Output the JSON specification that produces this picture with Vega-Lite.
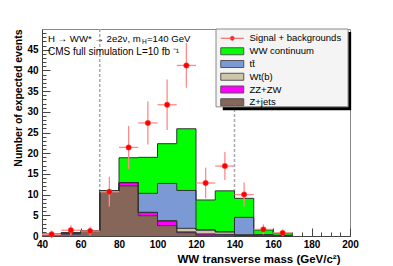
{
  "$schema": "https://vega.github.io/schema/vega-lite/v6.json",
  "width": 308,
  "height": 207,
  "autosize": "none",
  "padding": {"left": 42, "top": 29, "right": 43, "bottom": 30},
  "background": "white",
  "datasets": {
    "cuts": [{"cut": 70}, {"cut": 140}],
    "hist": [
      {"lo": 40, "hi": 50, "process": "Z+jets", "ord": 1, "n": 0.4},
      {"lo": 40, "hi": 50, "process": "ZZ+ZW", "ord": 2, "n": 0},
      {"lo": 40, "hi": 50, "process": "Wt(b)", "ord": 3, "n": 0},
      {"lo": 40, "hi": 50, "process": "tt\u0304", "ord": 4, "n": 0},
      {"lo": 40, "hi": 50, "process": "WW continuum", "ord": 5, "n": 0},
      {"lo": 50, "hi": 60, "process": "Z+jets", "ord": 1, "n": 0.45},
      {"lo": 50, "hi": 60, "process": "ZZ+ZW", "ord": 2, "n": 0.3},
      {"lo": 50, "hi": 60, "process": "Wt(b)", "ord": 3, "n": 0},
      {"lo": 50, "hi": 60, "process": "tt\u0304", "ord": 4, "n": 0},
      {"lo": 50, "hi": 60, "process": "WW continuum", "ord": 5, "n": 0},
      {"lo": 60, "hi": 70, "process": "Z+jets", "ord": 1, "n": 1.25},
      {"lo": 60, "hi": 70, "process": "ZZ+ZW", "ord": 2, "n": 0.05},
      {"lo": 60, "hi": 70, "process": "Wt(b)", "ord": 3, "n": 0},
      {"lo": 60, "hi": 70, "process": "tt\u0304", "ord": 4, "n": 0},
      {"lo": 60, "hi": 70, "process": "WW continuum", "ord": 5, "n": 0},
      {"lo": 70, "hi": 80, "process": "Z+jets", "ord": 1, "n": 10.9},
      {"lo": 70, "hi": 80, "process": "ZZ+ZW", "ord": 2, "n": 0.05},
      {"lo": 70, "hi": 80, "process": "Wt(b)", "ord": 3, "n": 0},
      {"lo": 70, "hi": 80, "process": "tt\u0304", "ord": 4, "n": 0},
      {"lo": 70, "hi": 80, "process": "WW continuum", "ord": 5, "n": 0},
      {"lo": 80, "hi": 90, "process": "Z+jets", "ord": 1, "n": 12.1},
      {"lo": 80, "hi": 90, "process": "ZZ+ZW", "ord": 2, "n": 0.8},
      {"lo": 80, "hi": 90, "process": "Wt(b)", "ord": 3, "n": 0},
      {"lo": 80, "hi": 90, "process": "tt\u0304", "ord": 4, "n": 0},
      {"lo": 80, "hi": 90, "process": "WW continuum", "ord": 5, "n": 6.0},
      {"lo": 90, "hi": 100, "process": "Z+jets", "ord": 1, "n": 4.9},
      {"lo": 90, "hi": 100, "process": "ZZ+ZW", "ord": 2, "n": 0.8},
      {"lo": 90, "hi": 100, "process": "Wt(b)", "ord": 3, "n": 0},
      {"lo": 90, "hi": 100, "process": "tt\u0304", "ord": 4, "n": 4.6},
      {"lo": 90, "hi": 100, "process": "WW continuum", "ord": 5, "n": 8.7},
      {"lo": 100, "hi": 110, "process": "Z+jets", "ord": 1, "n": 2.5},
      {"lo": 100, "hi": 110, "process": "ZZ+ZW", "ord": 2, "n": 1.1},
      {"lo": 100, "hi": 110, "process": "Wt(b)", "ord": 3, "n": 0.1},
      {"lo": 100, "hi": 110, "process": "tt\u0304", "ord": 4, "n": 9.0},
      {"lo": 100, "hi": 110, "process": "WW continuum", "ord": 5, "n": 9.6},
      {"lo": 110, "hi": 120, "process": "Z+jets", "ord": 1, "n": 0.8},
      {"lo": 110, "hi": 120, "process": "ZZ+ZW", "ord": 2, "n": 0.2},
      {"lo": 110, "hi": 120, "process": "Wt(b)", "ord": 3, "n": 0.85},
      {"lo": 110, "hi": 120, "process": "tt\u0304", "ord": 4, "n": 9.15},
      {"lo": 110, "hi": 120, "process": "WW continuum", "ord": 5, "n": 14.9},
      {"lo": 120, "hi": 130, "process": "Z+jets", "ord": 1, "n": 0.2},
      {"lo": 120, "hi": 130, "process": "ZZ+ZW", "ord": 2, "n": 0.3},
      {"lo": 120, "hi": 130, "process": "Wt(b)", "ord": 3, "n": 0.95},
      {"lo": 120, "hi": 130, "process": "tt\u0304", "ord": 4, "n": 0},
      {"lo": 120, "hi": 130, "process": "WW continuum", "ord": 5, "n": 7.25},
      {"lo": 130, "hi": 140, "process": "Z+jets", "ord": 1, "n": 0.2},
      {"lo": 130, "hi": 140, "process": "ZZ+ZW", "ord": 2, "n": 0.2},
      {"lo": 130, "hi": 140, "process": "Wt(b)", "ord": 3, "n": 0.6},
      {"lo": 130, "hi": 140, "process": "tt\u0304", "ord": 4, "n": 0},
      {"lo": 130, "hi": 140, "process": "WW continuum", "ord": 5, "n": 9.9},
      {"lo": 140, "hi": 150, "process": "Z+jets", "ord": 1, "n": 0.1},
      {"lo": 140, "hi": 150, "process": "ZZ+ZW", "ord": 2, "n": 0.1},
      {"lo": 140, "hi": 150, "process": "Wt(b)", "ord": 3, "n": 0.1},
      {"lo": 140, "hi": 150, "process": "tt\u0304", "ord": 4, "n": 4.2},
      {"lo": 140, "hi": 150, "process": "WW continuum", "ord": 5, "n": 4.6},
      {"lo": 150, "hi": 160, "process": "Z+jets", "ord": 1, "n": 0},
      {"lo": 150, "hi": 160, "process": "ZZ+ZW", "ord": 2, "n": 0.05},
      {"lo": 150, "hi": 160, "process": "Wt(b)", "ord": 3, "n": 0.25},
      {"lo": 150, "hi": 160, "process": "tt\u0304", "ord": 4, "n": 0},
      {"lo": 150, "hi": 160, "process": "WW continuum", "ord": 5, "n": 1.15},
      {"lo": 160, "hi": 170, "process": "Z+jets", "ord": 1, "n": 0},
      {"lo": 160, "hi": 170, "process": "ZZ+ZW", "ord": 2, "n": 0},
      {"lo": 160, "hi": 170, "process": "Wt(b)", "ord": 3, "n": 0.15},
      {"lo": 160, "hi": 170, "process": "tt\u0304", "ord": 4, "n": 0},
      {"lo": 160, "hi": 170, "process": "WW continuum", "ord": 5, "n": 0.5}
    ],
    "obs": [
      {"m": 45, "lo": 40, "hi": 50, "n": 0.4, "err": 0.9},
      {"m": 55, "lo": 50, "hi": 60, "n": 1.4, "err": 1.2},
      {"m": 65, "lo": 60, "hi": 70, "n": 1.2, "err": 1.1},
      {"m": 75, "lo": 70, "hi": 80, "n": 10.7, "err": 3.6},
      {"m": 85, "lo": 80, "hi": 90, "n": 21.4, "err": 5.2},
      {"m": 95, "lo": 90, "hi": 100, "n": 27.3, "err": 5.2},
      {"m": 105, "lo": 100, "hi": 110, "n": 31.7, "err": 6.1},
      {"m": 115, "lo": 110, "hi": 120, "n": 41.2, "err": 5.4},
      {"m": 125, "lo": 120, "hi": 130, "n": 12.8, "err": 3.7},
      {"m": 135, "lo": 130, "hi": 140, "n": 16.9, "err": 3.4},
      {"m": 145, "lo": 140, "hi": 150, "n": 10.0, "err": 2.9},
      {"m": 155, "lo": 150, "hi": 160, "n": 1.6, "err": 1.2},
      {"m": 165, "lo": 160, "hi": 170, "n": 0.75, "err": 0.8}
    ]
  },
  "config": {
    "view": {"stroke": "#888", "strokeWidth": 1},
    "font": "Liberation Sans",
    "axis": {
      "grid": false, "zindex": 1, "domainColor": "#444", "tickColor": "#444", "tickWidth": 1,
      "labelColor": "#000", "labelFont": "Liberation Sans", "labelFontSize": 10, "labelFontWeight": "bold",
      "titleFont": "Liberation Sans", "titleColor": "#000", "titleFontWeight": "bold",
      "labelFlush": false, "labelOverlap": false
    }
  },
  "layer": [
    {
      "data": {"name": "cuts"},
      "mark": {"type": "rule", "strokeDash": [3, 2], "color": "#aaaaaa", "strokeWidth": 1.5},
      "encoding": {
        "x": {"field": "cut", "type": "quantitative", "title": "WW transverse mass (GeV/c²)", "scale": {"domain": [40, 200], "nice": false, "zero": false},
          "axis": {
            "values": [40,45,50,55,60,65,70,75,80,85,90,95,100,105,110,115,120,125,130,135,140,145,150,155,160,165,170,175,180,185,190,195,200],
            "tickCount": 200,
            "format": "d",
            "tickSize": {"expr": "datum.value % 20 === 0 ? -8 : -4"},
            "labelExpr": "datum.value % 20 === 0 ? datum.label : ''",
            "labelOverlap": false,
            "labelBound": false,
            "labelPadding": 11,
            "title": "WW transverse mass (GeV/c²)",
            "titleFontSize": 11.5,
            "titleAlign": "right",
            "titleBaseline": "alphabetic",
            "titleX": 298,
            "titleY": 26
          }
        }
      }
    },
    {
      "data": {"name": "hist"},
      "transform": [
        {"stack": "n", "groupby": ["lo"], "sort": [{"field": "ord", "order": "ascending"}], "as": ["y0", "y1"]},
        {"fold": ["lo", "hi"], "as": ["edge", "xpos"]}
      ],
      "mark": {"type": "area", "opacity": 1, "interpolate": "linear"},
      "encoding": {
        "x": {"field": "xpos", "type": "quantitative", "title": "WW transverse mass (GeV/c²)", "scale": {"domain": [40, 200], "nice": false, "zero": false}},
        "y": {"field": "y1", "type": "quantitative", "title": "Number of expected events", "scale": {"domain": [0, 50], "nice": false},
          "axis": {
            "values": [0,1,2,3,4,5,6,7,8,9,10,11,12,13,14,15,16,17,18,19,20,21,22,23,24,25,26,27,28,29,30,31,32,33,34,35,36,37,38,39,40,41,42,43,44,45,46,47,48,49],
            "tickCount": 200,
            "format": "d",
            "tickSize": {"expr": "datum.value % 5 === 0 ? -8 : -4"},
            "labelExpr": "datum.value % 5 === 0 ? datum.label : ''",
            "labelOverlap": false,
            "labelBound": false,
            "labelPadding": 12,
            "title": "Number of expected events",
            "titleFontSize": 10.5,
            "titleAngle": 270,
            "titleAlign": "right",
            "titleBaseline": "middle",
            "titleX": -24,
            "titleY": 0
          }
        },
        "y2": {"field": "y0"},
        "color": {
          "field": "process", "type": "nominal",
          "scale": {
            "domain": ["WW continuum", "tt\u0304", "Wt(b)", "ZZ+ZW", "Z+jets"],
            "range": ["#00ff00", "#7b99d4", "#cdc6a9", "#ff00ff", "#87665a"]
          },
          "legend": {
            "title": null, "orient": "none", "legendX": 174, "legendY": 13.5, "padding": 4,
            "labelFont": "Liberation Sans", "labelFontSize": 9.5, "labelColor": "#000",
            "symbolSize": 64, "symbolType": "M-1,-0.875H4.75V0.875H-1Z", "rowPadding": 0.75, "labelOffset": 20,
            "symbolStrokeColor": "#555555", "symbolStrokeWidth": 1,
            "encode": {
              "symbols": {
                "stroke": {"value": "#555555"},
                "strokeWidth": {"value": 1},
                "fillOpacity": {"value": 1},
                "opacity": {"value": 1}
              }
            }
          }
        }
      }
    },
    {
      "data": {"name": "hist"},
      "transform": [
        {"stack": "n", "groupby": ["lo"], "sort": [{"field": "ord", "order": "ascending"}], "as": ["y0", "y1"]},
        {"fold": ["lo", "hi"], "as": ["edge", "xpos"]}
      ],
      "mark": {"type": "line", "color": "#333333", "strokeWidth": 1, "interpolate": "linear"},
      "encoding": {
        "x": {"field": "xpos", "type": "quantitative", "title": "WW transverse mass (GeV/c²)", "scale": {"domain": [40, 200], "nice": false, "zero": false}},
        "y": {"field": "y1", "type": "quantitative", "title": "Number of expected events", "scale": {"domain": [0, 50], "nice": false}},
        "detail": {"field": "process", "type": "nominal"}
      }
    },
    {
      "data": {"values": [{}]},
      "mark": {"type": "rect", "color": "#000000"},
      "encoding": {
        "x": {"datum": 133.9, "type": "quantitative"},
        "x2": {"datum": 200.6},
        "y": {"datum": 49.3, "type": "quantitative"},
        "y2": {"datum": 30.4}
      }
    },
    {
      "data": {"values": [{}]},
      "mark": {"type": "rect", "fill": "#f4f4f4", "stroke": "#8a8a8a", "strokeWidth": 1},
      "encoding": {
        "x": {"datum": 130.4, "type": "quantitative"},
        "x2": {"datum": 199.0},
        "y": {"datum": 50.0, "type": "quantitative"},
        "y2": {"datum": 31.2}
      }
    },
    {
      "data": {"name": "obs"},
      "mark": {"type": "rule", "color": "#ff8a8a", "strokeWidth": 1.3},
      "encoding": {
        "x": {"field": "lo", "type": "quantitative", "title": "WW transverse mass (GeV/c²)", "scale": {"domain": [40, 200], "nice": false, "zero": false}},
        "x2": {"field": "hi"},
        "y": {"field": "n", "type": "quantitative", "title": "Number of expected events", "scale": {"domain": [0, 50], "nice": false}}
      }
    },
    {
      "data": {"name": "obs"},
      "mark": {"type": "errorbar", "color": "#ff8a8a", "thickness": 1.3},
      "encoding": {
        "x": {"field": "m", "type": "quantitative", "title": "WW transverse mass (GeV/c²)", "scale": {"domain": [40, 200], "nice": false, "zero": false}},
        "y": {"field": "n", "type": "quantitative", "title": "Number of expected events", "scale": {"domain": [0, 50], "nice": false}},
        "yError": {"field": "err"}
      }
    },
    {
      "data": {"name": "obs"},
      "mark": {"type": "point", "filled": true, "shape": "circle", "size": 30, "opacity": 1, "color": "#ff0000", "strokeWidth": 0.5},
      "encoding": {
        "x": {"field": "m", "type": "quantitative", "title": "WW transverse mass (GeV/c²)", "scale": {"domain": [40, 200], "nice": false, "zero": false}},
        "y": {"field": "n", "type": "quantitative", "title": "Number of expected events", "scale": {"domain": [0, 50], "nice": false}},
        "stroke": {
          "datum": "Signal + backgrounds", "type": "nominal",
          "scale": {"domain": ["Signal + backgrounds"], "range": ["#ff5050"]},
          "legend": {
            "title": null, "orient": "none", "legendX": 174, "legendY": 0.5, "padding": 4,
            "labelFont": "Liberation Sans", "labelFontSize": 9.5, "labelColor": "#000",
            "symbolSize": 64, "symbolType": "M-1,0H4.75M1.375,0A0.5,0.5,0,1,1,2.375,0A0.5,0.5,0,1,1,1.375,0Z",
            "symbolFillColor": "#ff0000", "symbolStrokeWidth": 1, "labelOffset": 20
          }
        }
      }
    },
    {
      "data": {"values": [{}]},
      "mark": {"type": "text", "text": "H → WW* → 2e2ν, m", "align": "left", "baseline": "middle", "fontSize": 9.6, "font": "Liberation Sans", "color": "#000"},
      "encoding": {"x": {"datum": 43.1, "type": "quantitative"}, "y": {"datum": 47.7, "type": "quantitative"}}
    },
    {
      "data": {"values": [{}]},
      "mark": {"type": "text", "text": "H", "align": "left", "baseline": "middle", "fontSize": 6.5, "font": "Liberation Sans", "color": "#000", "dx": 94, "dy": 3},
      "encoding": {"x": {"datum": 43.1, "type": "quantitative"}, "y": {"datum": 47.7, "type": "quantitative"}}
    },
    {
      "data": {"values": [{}]},
      "mark": {"type": "text", "text": "=140 GeV", "align": "left", "baseline": "middle", "fontSize": 9.6, "font": "Liberation Sans", "color": "#000", "dx": 99},
      "encoding": {"x": {"datum": 43.1, "type": "quantitative"}, "y": {"datum": 47.7, "type": "quantitative"}}
    },
    {
      "data": {"values": [{}]},
      "mark": {"type": "text", "text": "CMS full simulation L=10 fb ⁻¹", "align": "left", "baseline": "middle", "fontSize": 10, "font": "Liberation Sans", "color": "#000"},
      "encoding": {"x": {"datum": 43.1, "type": "quantitative"}, "y": {"datum": 44.4, "type": "quantitative"}}
    }
  ]
}
